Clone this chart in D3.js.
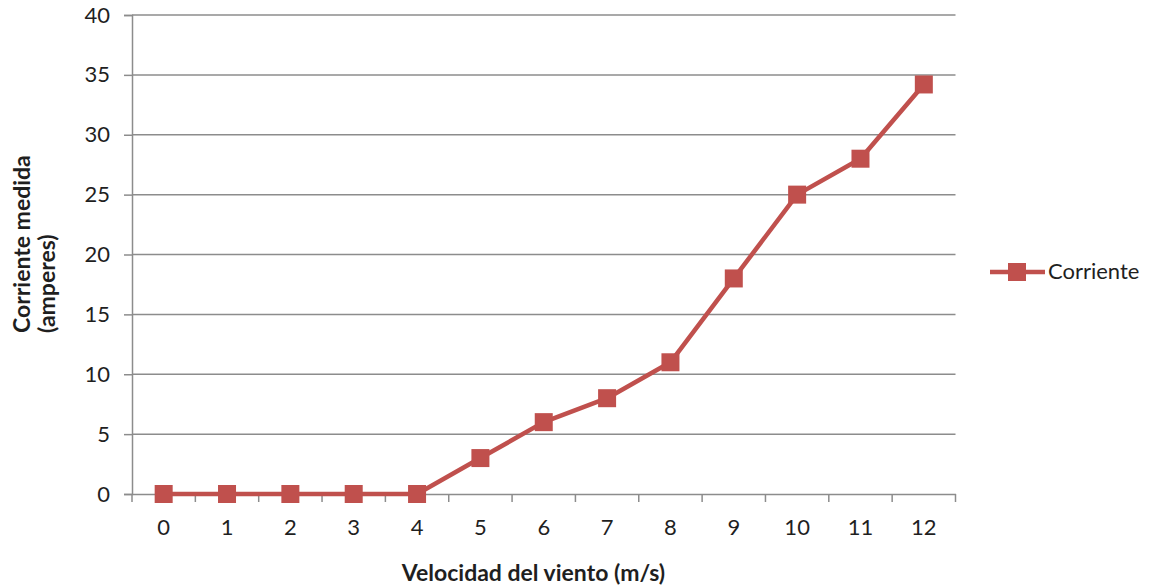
<!DOCTYPE html>
<html><head><meta charset="utf-8">
<script src="https://cdn.jsdelivr.net/npm/d3@7"></script>
<style>body{margin:0;background:#fff;} text{font-family:Lato,"Open Sans",sans-serif;}</style>
</head><body>
<svg id="c" width="1151" height="588"></svg>
<script>
const categories = ["0","1","2","3","4","5","6","7","8","9","10","11","12"];
const corriente = [0,0,0,0,0,3,6,8,11,18,25,28,34.2];
const yTicks = [0,5,10,15,20,25,30,35,40];
const seriesName = "Corriente";
const xTitle = "Velocidad del viento (m/s)";
const yTitle = ["Corriente medida","(amperes)"];

(function(){
const svg = d3.select("#c");
const mL = 132, mR = 955.5, mT = 15, mB = 494;
const x = d3.scaleBand().domain(categories).range([mL, mR]);
const y = d3.scaleLinear().domain([0, 40]).range([mB, mT]);
const grid = "#8c8c8c", red = "#C0504D", txt = "#1f1f1f";
const fs = 22, tfs = 23;

svg.append("g").selectAll("line").data(yTicks.filter(d=>d>0)).join("line")
  .attr("x1", mL).attr("x2", mR).attr("y1", d=>y(d)).attr("y2", d=>y(d))
  .attr("stroke", grid).attr("stroke-width", 1.5);

const ya = svg.append("g").attr("transform", `translate(${mL},0)`)
  .call(d3.axisLeft(y).tickValues(yTicks).tickSize(8).tickPadding(14));
ya.select(".domain").attr("stroke", grid).attr("stroke-width", 1.5);
ya.selectAll(".tick line").attr("stroke", grid).attr("stroke-width", 1.5);
ya.selectAll("text").attr("font-size", fs).attr("fill", txt).attr("font-family","Lato");

const xa = svg.append("g").attr("transform", `translate(0,${mB})`)
  .call(d3.axisBottom(x).tickSize(0).tickPadding(25));
xa.select(".domain").attr("stroke", grid).attr("stroke-width", 1.5);
xa.selectAll("text").attr("font-size", fs).attr("fill", txt).attr("font-family","Lato");
const xbounds = categories.map(c=>x(c)).concat([mR]);
svg.append("g").selectAll("line").data(xbounds).join("line")
  .attr("x1", d=>d).attr("x2", d=>d).attr("y1", mB).attr("y2", mB+8)
  .attr("stroke", grid).attr("stroke-width", 1.5);

const cx = c => x(c) + x.bandwidth()/2;
svg.append("path").datum(corriente)
  .attr("d", d3.line().x((d,i)=>cx(categories[i])).y(d=>y(d)))
  .attr("fill","none").attr("stroke", red).attr("stroke-width", 4.5).attr("stroke-linejoin","round");
const ms = 18;
svg.append("g").selectAll("rect").data(corriente).join("rect")
  .attr("x", (d,i)=>cx(categories[i])-ms/2).attr("y", d=>y(d)-ms/2)
  .attr("width", ms).attr("height", ms).attr("fill", red);

svg.append("text").attr("x", 533.5).attr("y", 581).attr("text-anchor","middle")
  .attr("font-size", tfs).attr("font-weight","bold").attr("fill",txt).text(xTitle);
const yt = svg.append("text").attr("transform","translate(30,333) rotate(-90)")
  .attr("font-size", tfs).attr("font-weight","bold").attr("fill",txt);
yTitle.forEach((t,i)=>yt.append("tspan").attr("x",0).attr("dy", i? 25:0).text(t));

const lg = svg.append("g");
lg.append("line").attr("x1",990).attr("x2",1045).attr("y1",272).attr("y2",272)
  .attr("stroke", red).attr("stroke-width", 4.5);
lg.append("rect").attr("x",1017-ms/2).attr("y",272-ms/2).attr("width",ms).attr("height",ms).attr("fill",red);
lg.append("text").attr("x",1048).attr("y",279).attr("font-size",fs).attr("fill",txt).text(seriesName);
})();
</script>
</body></html>
